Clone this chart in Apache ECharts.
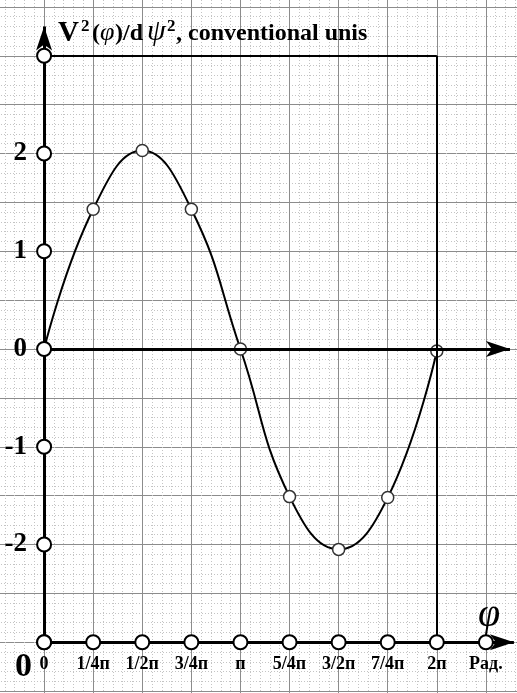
<!DOCTYPE html>
<html><head><meta charset="utf-8">
<script src="https://cdn.jsdelivr.net/npm/echarts@6/dist/echarts.min.js"></script>
<style>html,body{margin:0;padding:0;background:#fff;overflow:hidden;width:517px;height:693px;position:relative}
#c{position:absolute;left:-5px;top:-42px;width:540px;height:782px}</style>
</head><body><div id="c"></div><script>
// data
const phiSteps = [0, 1, 2, 3, 4, 5, 6, 7, 8];           // multiples of π/4
const curveValues = [0, 1.43, 2.03, 1.43, 0, -1.51, -2.05, -1.52, -0.02];
const xTickPos = [0, 1, 2, 3, 4, 5, 6, 7, 8, 9];
const xTickLabels = ['0', '1/4п', '1/2п', '3/4п', 'п', '5/4п', '3/2п', '7/4п', '2п', 'Рад.'];
const yTickPos = [-3, -2, -1, 0, 1, 2, 3];
const yTickLabels = ['', '-2', '-1', '0', '1', '2', ''];
const frameTop = 3, frameBottom = -3, frameRight = 8;
const yAxisEnd = 3.30, midAxisEnd = 9.49, bottomAxisEnd = 9.57;

const SERIF = '"Liberation Serif", "Times New Roman", serif';
const OX = 5, OY = 42; // container offset vs page
const chart = echarts.init(document.getElementById('c'), null, {renderer: 'canvas'});

const arrowEnd = {symbol: 'arrow', symbolSize: [12, 24]};
function seg(a, b, w, arrow) {
  return [
    {coord: a, symbol: 'none', lineStyle: {width: w, color: '#000', type: 'solid'}},
    Object.assign({coord: b}, arrow ? arrowEnd : {symbol: 'none'})
  ];
}
// text placed by baseline (page coords); top = baseline - 0.79 * size
function txt(str, x, base, size, style) {
  return {type: 'text', x: x + OX, y: base - 0.79 * size + OY, z: 10, silent: true,
    style: {text: str, font: style + ' ' + size + 'px ' + SERIF, fill: '#000', verticalAlign: 'top', align: 'left'}};
}

chart.setOption({
  animation: false,
  backgroundColor: '#ffffff',
  grid: {left: 0, right: 0, top: 0, bottom: 0, show: false},
  xAxis: {
    type: 'value', min: -1, max: 10, interval: 1,
    axisLine: {show: false}, axisTick: {show: false}, axisLabel: {show: false},
    splitLine: {show: true, lineStyle: {color: '#8c8c8c', width: 1}},
    minorTick: {show: false, splitNumber: 5},
    minorSplitLine: {show: true, lineStyle: {color: '#c4c4c4', width: 1, type: [1, 2]}}
  },
  yAxis: {
    type: 'value', min: -4, max: 4, interval: 0.5,
    axisLine: {show: false}, axisTick: {show: false}, axisLabel: {show: false},
    splitLine: {show: true, lineStyle: {color: '#8c8c8c', width: 1}},
    minorTick: {show: false, splitNumber: 5},
    minorSplitLine: {show: true, lineStyle: {color: '#c4c4c4', width: 1, type: [1, 2]}}
  },
  series: [
    {
      type: 'line', data: [], z: 2, silent: true,
      markLine: {
        silent: true, animation: false,
        label: {show: false},
        emphasis: {disabled: true},
        lineStyle: {color: '#000', type: 'solid'},
        data: [
          seg([0, frameBottom], [0, yAxisEnd], 3, true),
          seg([0, frameTop], [frameRight, frameTop], 2, false),
          seg([frameRight, frameTop], [frameRight, frameBottom], 2, false),
          seg([0, 0], [midAxisEnd, 0], 3, true),
          seg([0, frameBottom], [bottomAxisEnd, frameBottom], 3, true)
        ]
      }
    },
    {
      type: 'line', z: 4,
      data: phiSteps.map((x, i) => [x, curveValues[i]]),
      smooth: 0.45,
      symbol: 'circle', symbolSize: 12,
      lineStyle: {color: '#000', width: 2},
      itemStyle: {color: '#fff', borderColor: '#333', borderWidth: 1.5},
      emphasis: {disabled: true}
    },
    {
      type: 'scatter', z: 5,
      data: yTickPos.map(v => [0, v]),
      symbol: 'circle', symbolSize: 14,
      itemStyle: {color: '#fff', borderColor: '#000', borderWidth: 2, opacity: 1},
      label: {
        show: true, position: 'left', distance: 9,
        formatter: p => yTickLabels[p.dataIndex],
        fontFamily: SERIF, fontWeight: 'bold', fontSize: 27, color: '#000'
      },
      emphasis: {disabled: true}
    },
    {
      type: 'scatter', z: 5,
      data: xTickPos.map(v => [v, frameBottom]),
      symbol: 'circle', symbolSize: 14,
      itemStyle: {color: '#fff', borderColor: '#000', borderWidth: 2, opacity: 1},
      label: {
        show: true, position: 'bottom', distance: 5,
        formatter: p => xTickLabels[p.dataIndex],
        fontFamily: SERIF, fontWeight: 'bold', fontSize: 18, color: '#000'
      },
      emphasis: {disabled: true}
    }
  ],
  graphic: [
    txt('V', 58, 42, 29, 'bold'),
    txt('2', 81, 32, 17, 'bold'),
    txt('(', 92, 41, 24, 'bold'),
    txt('φ', 100, 41, 26, 'italic'),
    txt(')/d', 115, 41, 24, 'bold'),
    txt('ψ', 147, 41, 30, 'italic'),
    txt('2', 167, 32, 17, 'bold'),
    txt(', conventional unis', 176, 41, 24, 'bold'),
    txt('0', 15, 677, 34, 'bold'),
    txt('φ', 478, 627, 40, 'italic')
  ]
});
</script></body></html>
